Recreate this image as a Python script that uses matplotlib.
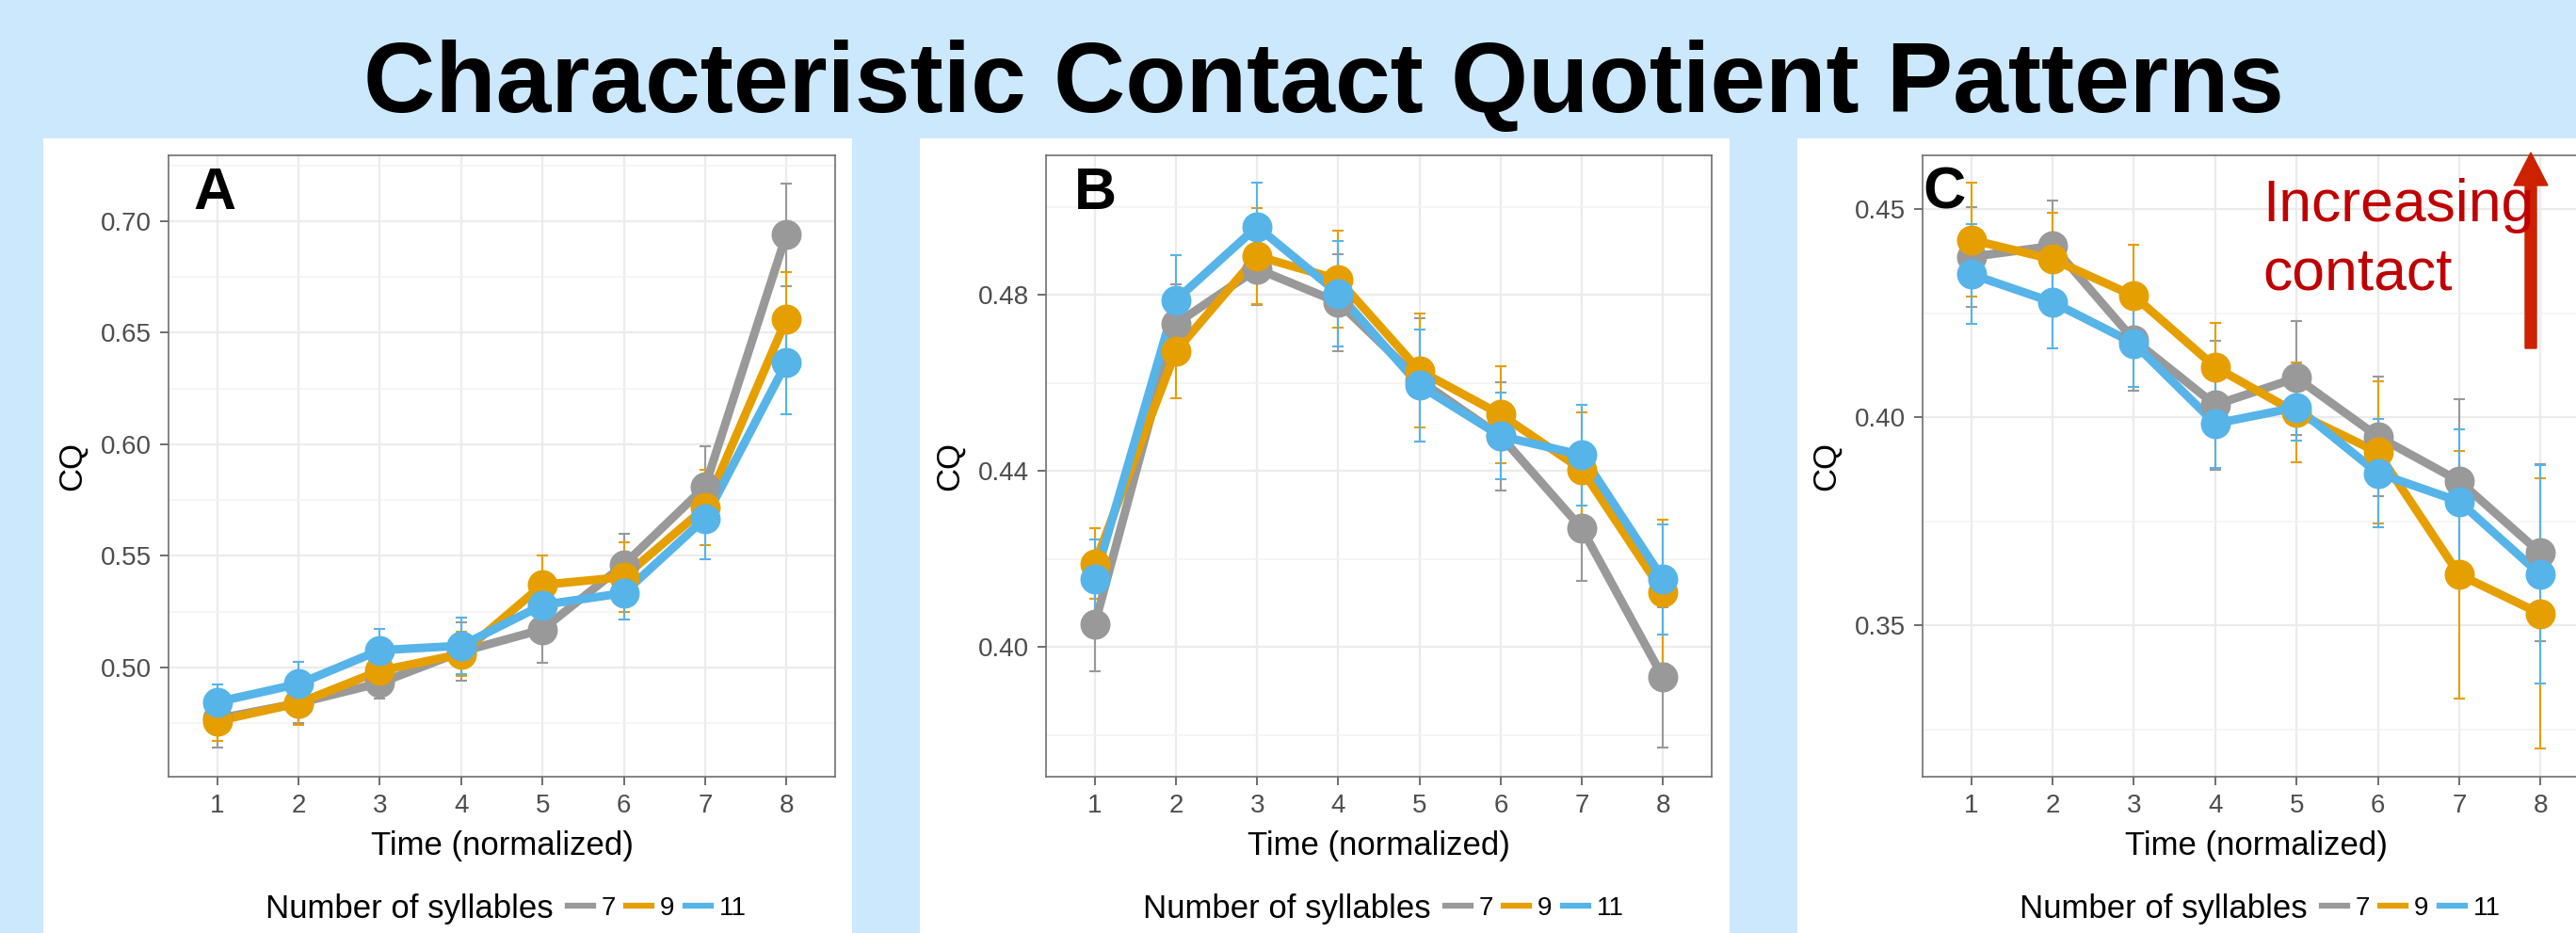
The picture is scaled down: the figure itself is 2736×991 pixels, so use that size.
import numpy as np
import matplotlib
matplotlib.use('Agg')
import matplotlib.pyplot as plt
from matplotlib.patches import Rectangle, FancyArrow
from matplotlib.lines import Line2D

plt.rcParams['font.family'] = ['Liberation Sans', 'DejaVu Sans']

# data
time_pts = [1, 2, 3, 4, 5, 6, 7, 8]
syllables = ['7', '9', '11']
colors = ['#999999', '#E69F00', '#56B4E9']

a_cq_7 = [0.477, 0.484, 0.493, 0.507, 0.517, 0.546, 0.581, 0.694]
a_se_7 = [0.013, 0.009, 0.007, 0.013, 0.015, 0.014, 0.018, 0.023]
a_cq_9 = [0.476, 0.484, 0.4985, 0.506, 0.537, 0.5405, 0.5716, 0.656]
a_se_9 = [0.009, 0.010, 0.010, 0.010, 0.013, 0.0155, 0.017, 0.021]
a_cq_11 = [0.4845, 0.4926, 0.5077, 0.5097, 0.528, 0.5333, 0.5668, 0.6365]
a_se_11 = [0.008, 0.0098, 0.0097, 0.0125, 0.010, 0.012, 0.0184, 0.023]

b_cq_7 = [0.4051, 0.4734, 0.4859, 0.4783, 0.4606, 0.4479, 0.4269, 0.3931]
b_se_7 = [0.0106, 0.009, 0.0083, 0.011, 0.014, 0.0123, 0.012, 0.016]
b_cq_9 = [0.4189, 0.4672, 0.4888, 0.4835, 0.4628, 0.4528, 0.4403, 0.4125]
b_se_9 = [0.008, 0.0108, 0.011, 0.011, 0.013, 0.011, 0.013, 0.0164]
b_cq_11 = [0.4154, 0.4788, 0.4955, 0.4803, 0.4594, 0.4479, 0.4436, 0.4154]
b_se_11 = [0.009, 0.0103, 0.010, 0.012, 0.0128, 0.0099, 0.0114, 0.0125]

c_cq_7 = [0.4386, 0.4412, 0.4186, 0.4030, 0.4095, 0.3954, 0.3847, 0.3674]
c_se_7 = [0.012, 0.011, 0.0123, 0.0155, 0.0137, 0.0143, 0.0196, 0.0213]
c_cq_9 = [0.4427, 0.4380, 0.4292, 0.4121, 0.4011, 0.3916, 0.3622, 0.3528]
c_se_9 = [0.0137, 0.0112, 0.0123, 0.0107, 0.012, 0.017, 0.0297, 0.0325]
c_cq_11 = [0.4344, 0.4277, 0.4178, 0.3985, 0.4024, 0.3866, 0.3798, 0.3622]
c_se_11 = [0.012, 0.011, 0.0104, 0.0107, 0.008, 0.013, 0.0174, 0.0263]

W, H = 2736, 991


def fig_box(left, top, right, bottom):
    """pixel box -> figure fraction [l, b, w, h]"""
    return [left / W, 1 - bottom / H, (right - left) / W, (bottom - top) / H]


panels = [
    ('A', (179, 165, 887, 825), (0.451, 0.7295), 0.05, 0.037,
     [a_cq_7, a_cq_9, a_cq_11], [a_se_7, a_se_9, a_se_11]),
    ('B', (1111, 165, 1818, 825), (0.3705, 0.5117), 0.04, 0.042,
     [b_cq_7, b_cq_9, b_cq_11], [b_se_7, b_se_9, b_se_11]),
    ('C', (2042, 165, 2750, 825), (0.3136, 0.463), 0.05, 0.0,
     [c_cq_7, c_cq_9, c_cq_11], [c_se_7, c_se_9, c_se_11]),
]
white_boxes = [(46, 905), (977, 1837), (1909, 2736)]

fig = plt.figure(figsize=(W / 100, H / 100), dpi=100)
fig.patch.set_facecolor('#CCE8FC')

for x0, x1 in white_boxes:
    fig.add_artist(Rectangle((x0 / W, 0), (x1 - x0) / W, (H - 147) / H,
                             transform=fig.transFigure, facecolor='white',
                             edgecolor='none', zorder=-1))

fig.text(1406 / W, 1 - 119 / H, 'Characteristic Contact Quotient Patterns',
         fontsize=76, fontweight='bold', ha='center', va='baseline')

for letter, box, ylim, step, lx, cqs, ses in panels:
    ax = fig.add_axes(fig_box(*box))
    ax.set_facecolor('white')
    ax.set_axisbelow(True)

    # error bars under the lines, lines under the points
    for i in range(3):
        ax.errorbar(time_pts, cqs[i], yerr=ses[i], fmt='none', ecolor=colors[i],
                    elinewidth=1.5, capsize=4, capthick=1.5, zorder=2 + i * 0.01)
    for i in range(3):
        ax.plot(time_pts, cqs[i], color=colors[i], lw=6.5, zorder=3 + i * 0.01,
                solid_capstyle='round')
    for i in range(3):
        ax.plot(time_pts, cqs[i], 'o', color=colors[i], ms=22, zorder=4 + i * 0.01)

    ax.set_xlim(0.4, 8.6)
    ax.set_ylim(*ylim)
    ax.set_xticks(time_pts)
    major = np.arange(np.ceil(ylim[0] / step) * step, ylim[1], step)
    minor = np.arange(major[0] - step / 2, ylim[1], step)
    ax.set_yticks(major)
    ax.set_yticklabels(['%.2f' % v for v in major])
    ax.set_yticks(minor, minor=True)
    ax.grid(which='major', color='#EBEBEB', lw=1.6)
    ax.grid(which='minor', axis='y', color='#F2F2F2', lw=1.1)

    for sp in ax.spines.values():
        sp.set_color('#707070')
        sp.set_linewidth(1.2)
    ax.tick_params(which='major', length=6.5, width=1.2, color='#555555',
                   labelsize=20, labelcolor='#4D4D4D', pad=6.5)
    ax.tick_params(which='minor', length=0)

    ax.set_xlabel('Time (normalized)', fontsize=25, labelpad=9)
    ax.set_ylabel('CQ', fontsize=25, labelpad=10)

    ax.text(lx, (825 - 222) / 660, letter, transform=ax.transAxes,
            fontsize=45, fontweight='bold', va='baseline', zorder=10)

    # legend with the title on the left
    left = box[0] + 103
    fig.text(left / W, 1 - 965 / H, 'Number of syllables', fontsize=25,
             ha='left', va='center')
    handles = [Line2D([], [], color=c, lw=4.5) for c in colors]
    ax.legend(handles, syllables, loc='center left',
              bbox_to_anchor=((left + 321) / W, 1 - 965 / H),
              bbox_transform=fig.transFigure, ncol=3, frameon=False,
              fontsize=20, handlelength=0.97, handletextpad=0.32,
              columnspacing=0.4, borderpad=0, borderaxespad=0)

# annotation in panel C
fig.add_artist(FancyArrow(2688 / W, 1 - 370 / H, 0, (370 - 162) / H,
                          width=12 / W, head_width=36 / W, head_length=35 / H,
                          length_includes_head=True, transform=fig.transFigure,
                          color='#CC2200', zorder=5))
fig.text(2403 / W, 1 - 235 / H, 'Increasing', color='#C00000', fontsize=45,
         va='baseline', zorder=6)
fig.text(2403 / W, 1 - 308 / H, 'contact', color='#C00000', fontsize=45,
         va='baseline', zorder=6)

fig.savefig('out.png', dpi=100, facecolor=fig.get_facecolor())
